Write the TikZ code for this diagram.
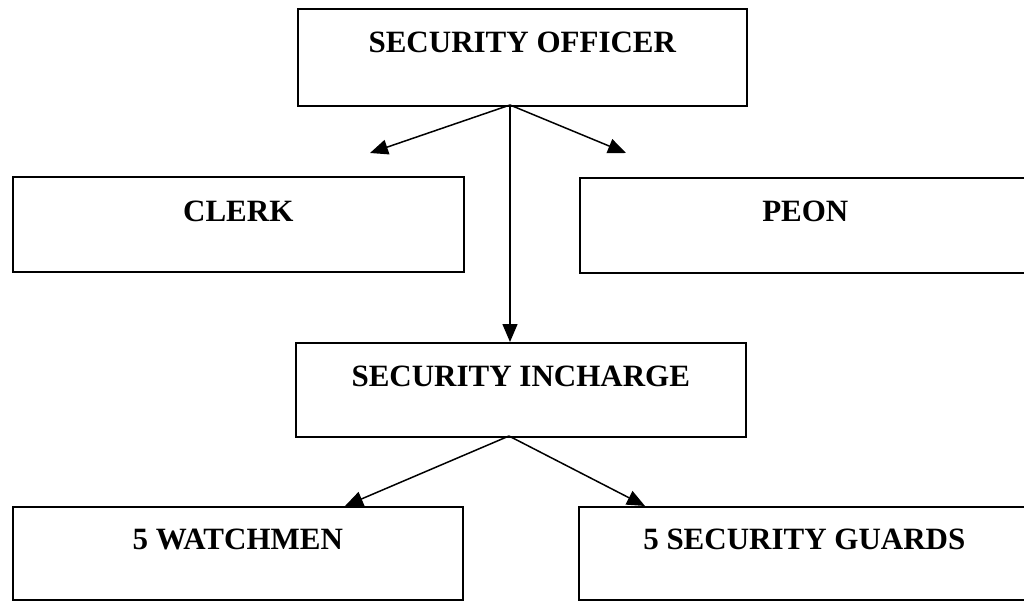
\documentclass[tikz,border=0pt]{standalone}
\usepackage{fontspec}
\setmainfont{Liberation Serif}
\usetikzlibrary{arrows.meta}

\begin{document}
\begin{tikzpicture}[x=1bp, y=-1bp,
  post/.style={draw=black, line width=1.6bp, fill=white, inner sep=0pt,
    font=\fontsize{31bp}{36bp}\selectfont\bfseries, anchor=north west},
  link/.style={line width=1.5bp, -{Triangle[length=18bp, width=15bp]}}]

\useasboundingbox (0,0) rectangle (1024,602);

% row 1
\node[post, minimum width=449bp, text height=44bp, text depth=53bp] (officer) at (297,8) {SECURITY OFFICER};
% row 2
\node[post, minimum width=451bp, text height=45bp, text depth=50bp] (clerk) at (12,176) {CLERK};
\node[post, minimum width=451bp, text height=44bp, text depth=51bp] (peon) at (579,177) {PEON};
% row 3
\node[post, minimum width=450bp, text height=44bp, text depth=50bp] (incharge) at (295,342) {SECURITY INCHARGE};
% row 4
\node[post, minimum width=450bp, text height=43bp, text depth=50bp] (watch) at (12,506) {5 WATCHMEN};
\node[post, minimum width=451bp, text height=43bp, text depth=50bp] (guards) at (578,506) {5 SECURITY GUARDS};

% branch points and free arrow ends
\coordinate (fork1) at (510,105);
\coordinate (fork2) at (509,436);
\coordinate (clerktip) at (370,153);
\coordinate (peontip) at (626,153);
\coordinate (watchtip) at (345,506);
\coordinate (guardstip) at (645,506);

\draw[link] (fork1) -- (clerktip);
\draw[link] (fork1) -- (peontip);
\draw[link] (fork1) -- (fork1 |- incharge.north);
\draw[link] (fork2) -- (watchtip);
\draw[link] (fork2) -- (guardstip);
\end{tikzpicture}
\end{document}
